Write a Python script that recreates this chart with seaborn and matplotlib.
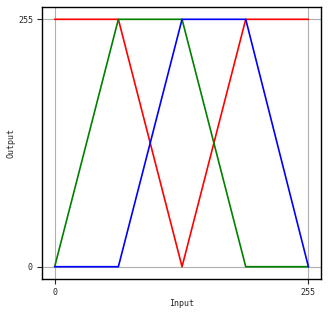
import matplotlib
matplotlib.use("Agg")
import matplotlib.pyplot as plt
import seaborn as sns
import pandas as pd

inputs = [0, 64, 128, 192, 255]
red = [255, 255, 0, 255, 255]
green = [0, 255, 255, 0, 0]
blue = [0, 0, 255, 255, 0]
tick_vals = [0, 255]

sns.set_style("ticks")
plt.rcParams['font.family'] = ['DejaVu Sans Mono', 'DejaVu Sans']

fig = plt.figure(figsize=(3.28, 3.15), dpi=100)
ax = fig.add_axes([0.128, 0.114, 0.851, 0.864])

df = pd.DataFrame({"Input": inputs, "red": red, "green": green, "blue": blue})
for col, c in [("red", "red"), ("green", "green"), ("blue", "blue")]:
    sns.lineplot(data=df, x="Input", y=col, color=c, ax=ax, linewidth=1.2)

ax.set_xticks(tick_vals)
ax.set_yticks(tick_vals)
ax.grid(True, color="#b0b0b0", linewidth=0.8)
ax.set_axisbelow(True)
ax.set_xlabel("Input", fontsize=6, labelpad=1)
ax.set_ylabel("Output", fontsize=6, labelpad=1.5)
ax.tick_params(labelsize=6, length=3.5, width=0.8, pad=3)
for s in ax.spines.values():
    s.set_color("black")
    s.set_linewidth(1)

fig.savefig("out.png", dpi=100)
